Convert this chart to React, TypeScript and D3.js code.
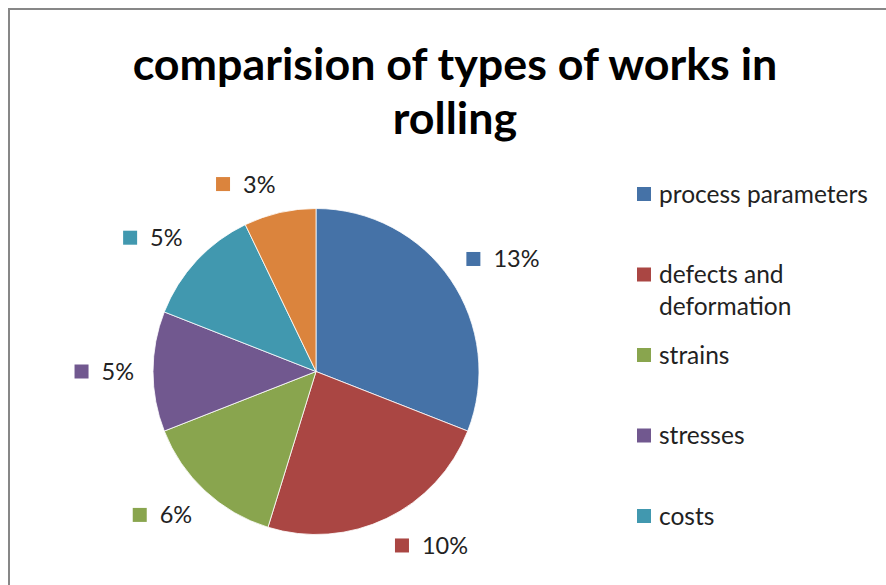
import { useMemo } from 'react'
import * as d3 from 'd3'

// chart data
const categories = ['process parameters', 'defects and deformation', 'strains', 'stresses', 'costs', 'others']
const shares = [13, 10, 6, 5, 5, 3]
const valueLabels = ['13%', '10%', '6%', '5%', '5%', '3%']
const titleLines = ['comparision of types of works in', 'rolling']

const COLORS = ['#4572A7', '#AA4643', '#89A54E', '#71588F', '#4198AF', '#DB843D']

const W = 886
const H = 585
const CX = 316
const CY = 371.5
const R = 163
const LABEL_GAP = 19
const FONT = 'Lato, "Open Sans", sans-serif'
const LABEL_SIZE = 23.5
const LEGEND_SIZE = 24.5
const MARK = 14

let ctx: CanvasRenderingContext2D | null = null
function textWidth(s: string, font: string): number {
  if (!ctx) ctx = document.createElement('canvas').getContext('2d')
  if (!ctx) return s.length * 11
  ctx.font = font
  return ctx.measureText(s).width
}

function wrap(s: string, maxChars: number): string[] {
  const words = s.split(' ')
  const lines: string[] = []
  let cur = ''
  for (const w of words) {
    const next = cur ? cur + ' ' + w : w
    if (next.length > maxChars && cur) {
      lines.push(cur)
      cur = w
    } else cur = next
  }
  if (cur) lines.push(cur)
  return lines
}

const clamp = (v: number) => Math.max(-1, Math.min(1, v))

export default function App() {
  const arcs = useMemo(
    () =>
      d3
        .pie<number>()
        .sort(null)
        .value((d) => d)(shares),
    []
  )
  const arcGen = d3.arc<d3.PieArcDatum<number>>().innerRadius(0).outerRadius(R)
  const color = d3.scaleOrdinal<number, string>().domain(d3.range(categories.length)).range(COLORS)

  // outside-end data labels: corner of the label box nearest the pie sits on a ring just outside it
  const labels = arcs.map((a, i) => {
    const theta = (a.startAngle + a.endAngle) / 2
    const px = CX + (R + LABEL_GAP) * Math.sin(theta)
    const py = CY - (R + LABEL_GAP) * Math.cos(theta)
    const tw = textWidth(valueLabels[i], `${LABEL_SIZE}px ${FONT}`)
    const w = MARK + 13 + tw
    const h = 20
    const bx = px + clamp(Math.sin(theta) * 8) * (w / 2)
    const by = py - clamp(Math.cos(theta) * 8) * (h / 2)
    return { x: bx - w / 2, y: by, text: valueLabels[i], i }
  })

  const legendY = d3.scaleLinear().domain([0, 1]).range([194, 274.5])
  const legend = categories
    .map((c, i) => ({ lines: wrap(c, 20), i, y: legendY(i) }))
    .filter((d) => d.y < H)

  return (
    <svg
      width={W}
      height={H}
      style={{ display: 'block', position: 'fixed', left: 0, top: 0, overflow: 'hidden' }}
    >
      <rect x={9} y={9} width={W + 40} height={H + 40} fill="#fff" stroke="#878787" strokeWidth={2} />

      <text textAnchor="middle" fontFamily={FONT} fontWeight={700} fontSize={44.8} fill="#000">
        {titleLines.map((t, i) => (
          <tspan key={i} x={455} y={80 + i * 54}>
            {t}
          </tspan>
        ))}
      </text>

      <g transform={`translate(${CX},${CY})`}>
        {arcs.map((a, i) => (
          <path key={i} d={arcGen(a) ?? ''} fill={color(i)} stroke="#fff" strokeWidth={0.8} />
        ))}
      </g>

      {labels.map((l) => (
        <g key={l.i}>
          <rect x={l.x} y={l.y - MARK / 2} width={MARK} height={MARK} fill={color(l.i)} />
          <text x={l.x + MARK + 13} y={l.y} dy="0.36em" fontFamily={FONT} fontSize={LABEL_SIZE} fill="#222">
            {l.text}
          </text>
        </g>
      ))}

      {legend.map((d) => (
        <g key={d.i}>
          <rect x={637} y={d.y - MARK / 2} width={MARK} height={MARK} fill={color(d.i)} />
          <text fontFamily={FONT} fontSize={LEGEND_SIZE} fill="#222">
            {d.lines.map((ln, k) => (
              <tspan key={k} x={659} y={d.y + k * 31.5} dy="0.36em">
                {ln}
              </tspan>
            ))}
          </text>
        </g>
      ))}
    </svg>
  )
}
